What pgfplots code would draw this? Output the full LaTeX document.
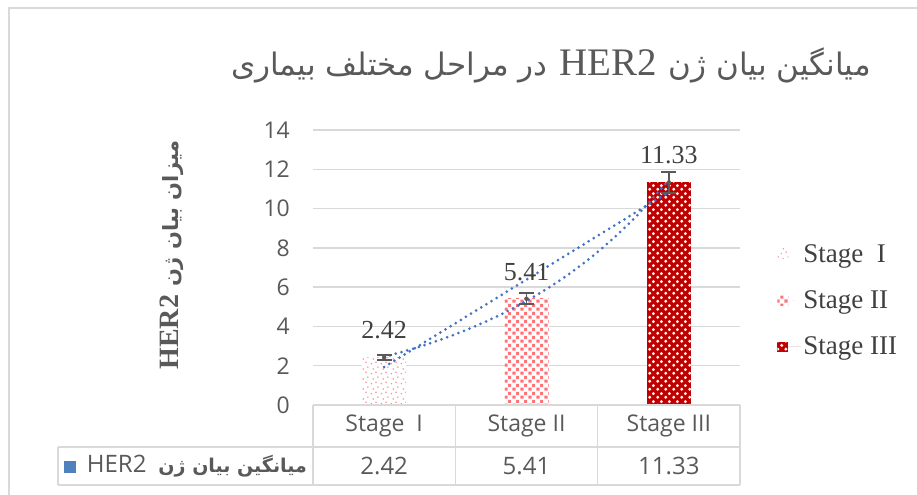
\documentclass[border=0pt]{standalone}
\usepackage{pgfplots}
\pgfplotsset{compat=1.18}
\usepackage{fontspec}
\usetikzlibrary{patterns,patterns.meta}
\setmainfont{Liberation Serif}
\newfontfamily\osans{Open Sans}
\newfontfamily\arabicfont[Script=Arabic]{DejaVu Sans}
\TeXXeTstate=1
\definecolor{pinkI}{HTML}{FF8F8F}
\definecolor{salmonII}{HTML}{FF7378}
\definecolor{redIII}{HTML}{C00000}
\definecolor{trendblue}{HTML}{4472C4}
\definecolor{sqblue}{HTML}{4F81BD}
\definecolor{gridgray}{HTML}{D9D9D9}
\definecolor{txtgray}{HTML}{595959}
\definecolor{lblgray}{HTML}{404040}
\definecolor{errgray}{HTML}{595959}

\tikzdeclarepattern{
  name=patI, type=uncolored,
  bottom left={(0bp,0bp)}, top right={(10bp,10bp)}, tile size={(10bp,10bp)},
  code={
    \fill (1.5bp,1.5bp) circle (0.9bp);
    \fill (6.5bp,3bp) circle (0.9bp);
    \fill (3.5bp,6.5bp) circle (0.9bp);
    \fill (8.5bp,8.5bp) circle (0.9bp);
  }
}
\tikzdeclarepattern{
  name=patII, type=uncolored,
  bottom left={(0bp,0bp)}, top right={(8bp,8bp)}, tile size={(8bp,8bp)},
  code={
    \fill (0.5bp,0.5bp) rectangle (3.9bp,3.9bp);
    \fill (4.5bp,4.5bp) rectangle (7.9bp,7.9bp);
  }
}
\tikzdeclarepattern{
  name=patIII, type=uncolored,
  bottom left={(0bp,0bp)}, top right={(8bp,8bp)}, tile size={(8bp,8bp)},
  code={
    \fill (2bp,2bp) circle (1.8bp);
    \fill (6bp,6bp) circle (1.8bp);
  }
}

\begin{document}
\begin{tikzpicture}
\path[use as bounding box] (0,0) rectangle (917bp,495bp);
% outer chart border (top and left visible)
\draw[gridgray, line width=2.5bp] (9bp,0bp) -- (9bp,487bp) -- (917bp,487bp);

\begin{axis}[
  at={(313bp,90bp)}, anchor=south west,
  scale only axis, width=427bp, height=275bp,
  xmin=0.5, xmax=3.5, ymin=0, ymax=14,
  ytick={0,2,...,14},
  xtick={1,2,3},
  xticklabels={Stage\ \ I, Stage II, Stage III},
  major tick length=0pt,
  axis line style={draw=none},
  ymajorgrids, grid style={gridgray, line width=1.5bp},
  /pgf/number format/assume math mode=true,
  yticklabel style={font=\osans\fontsize{23bp}{26bp}\selectfont, text=txtgray, anchor=east, inner sep=0pt, xshift=-23bp},
  xticklabel style={font=\osans\fontsize{23bp}{26bp}\selectfont, text=txtgray, anchor=center, inner sep=0pt, yshift=-21bp},
  clip=false,
  legend style={at={(1.08,0.60)}, anchor=north west, draw=none, fill=none,
    font=\fontsize{27bp}{30bp}\selectfont, text=lblgray, row sep=23bp},
  legend cell align=left,
  legend image code/.code={\draw[#1,draw=none] (0bp,-5bp) rectangle (11bp,5bp); \path (0bp,0bp) -- (24bp,0bp);},
  every node near coord/.append style={font=\fontsize{26bp}{30bp}\selectfont, text=lblgray, anchor=center, yshift=27bp},
]
\addplot[ybar, bar width=44bp, bar shift=0pt, draw=none, fill=white,
  postaction={pattern=patI, pattern color=pinkI}, nodes near coords]
  coordinates {(1,2.42)};
\addlegendentry{Stage\ \ I}
\addplot[ybar, bar width=44bp, bar shift=0pt, draw=none, fill=white,
  postaction={pattern=patII, pattern color=salmonII}, nodes near coords]
  coordinates {(2,5.41)};
\addlegendentry{Stage II}
\addplot[ybar, bar width=44bp, bar shift=0pt, draw=none, fill=redIII,
  postaction={pattern=patIII, pattern color=white}, nodes near coords]
  coordinates {(3,11.33)};
\addlegendentry{Stage III}

% linear trendline
\addplot[forget plot, trendblue, line width=3bp, line cap=round, dash pattern=on 0pt off 6bp]
  coordinates {(1,1.932) (3,10.842)};
% exponential trendline
\addplot[forget plot, trendblue, line width=3bp, line cap=round, dash pattern=on 0pt off 6bp, smooth]
  coordinates {(1,2.447) (1.25,2.968) (1.5,3.600) (1.75,4.366) (2,5.295) (2.25,6.422) (2.5,7.789) (2.75,9.446) (3,11.457)};

% error bars
\addplot[forget plot, only marks, mark=none, color=errgray,
  error bars/.cd, y dir=both, y explicit,
  error bar style={color=errgray, line width=1.8bp},
  error mark options={rotate=90, mark size=7.5bp, line width=1.8bp, color=errgray}]
  coordinates {(1,2.42) +- (0,0.12) (2,5.41) +- (0,0.28) (3,11.33) +- (0,0.53)};

% data table values
\node[font=\osans\fontsize{24bp}{28bp}\selectfont, text=txtgray] at (axis cs:1,0) [yshift=-61bp] {2.42};
\node[font=\osans\fontsize{24bp}{28bp}\selectfont, text=txtgray] at (axis cs:2,0) [yshift=-61bp] {5.41};
\node[font=\osans\fontsize{24bp}{28bp}\selectfont, text=txtgray] at (axis cs:3,0) [yshift=-61bp] {11.33};
\end{axis}

% data table frame
\begin{scope}[gridgray, line width=1.5bp]
\draw (313bp,90bp) -- (740bp,90bp);
\draw (58bp,48bp) -- (740bp,48bp);
\draw (58bp,10bp) -- (740bp,10bp);
\draw (58bp,10bp) -- (58bp,48bp);
\draw (313bp,10bp) -- (313bp,90bp);
\draw (455.3bp,10bp) -- (455.3bp,90bp);
\draw (597.7bp,10bp) -- (597.7bp,90bp);
\draw (740bp,10bp) -- (740bp,90bp);
\end{scope}
\node[anchor=east, text=txtgray, inner sep=0pt] at (307bp,29bp)
  {{\color{sqblue}\rule[-1bp]{12bp}{12bp}}\hspace{11bp}{\osans\fontsize{24bp}{28bp}\selectfont HER2}\hspace{12bp}{\arabicfont\bfseries\fontsize{19bp}{24bp}\selectfont\beginR میانگین بیان ژن\endR}};

% title
\node[text=txtgray, inner sep=0pt] at (551bp,430bp)
  {{\arabicfont\fontsize{31bp}{36bp}\selectfont\beginR در مراحل مختلف بیماری\endR}\hspace{12bp}{\fontsize{39bp}{40bp}\selectfont HER2}\hspace{12bp}{\arabicfont\fontsize{31bp}{36bp}\selectfont\beginR میانگین بیان ژن\endR}};

% y axis label
\node[rotate=90, text=txtgray, inner sep=0pt] at (172bp,240bp)
  {{\bfseries\fontsize{28bp}{32bp}\selectfont HER2}\hspace{8bp}{\arabicfont\bfseries\fontsize{21bp}{28bp}\selectfont\beginR میزان بیان ژن\endR}};
\end{tikzpicture}
\end{document}
